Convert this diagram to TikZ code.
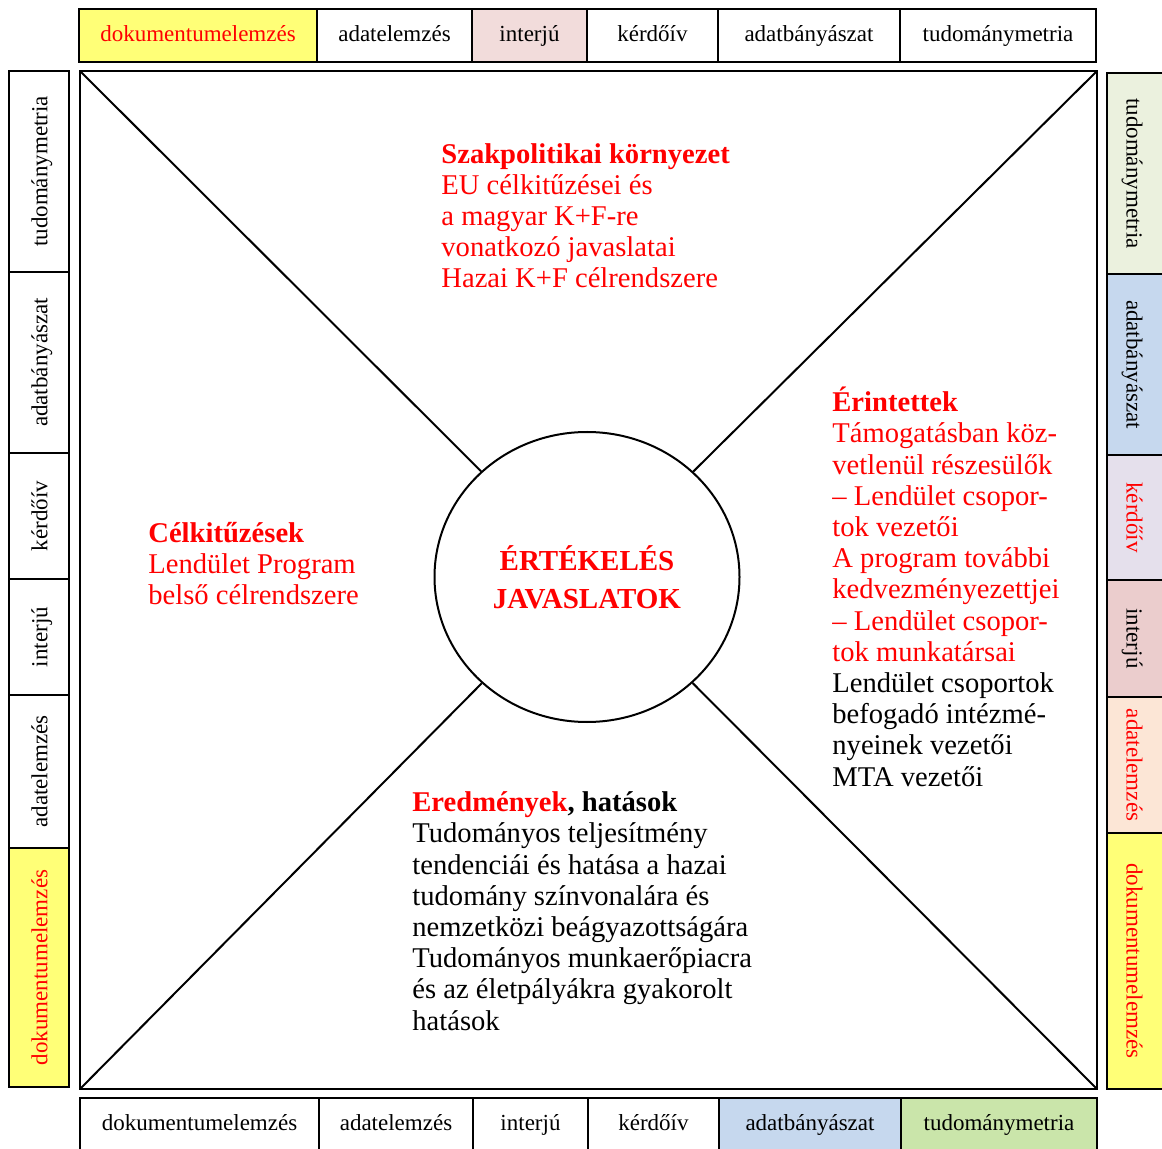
\documentclass[tikz,border=0pt]{standalone}
\usepackage{fontspec}
\setmainfont{Liberation Serif}
\usetikzlibrary{shapes.geometric,positioning}
\definecolor{sarga}{HTML}{FFFF77}
\definecolor{rozsa}{HTML}{F2DCDB}
\definecolor{rozsasot}{HTML}{EBCDCD}
\definecolor{zoldvil}{HTML}{EBF1DE}
\definecolor{kek}{HTML}{C6D8EE}
\definecolor{lila}{HTML}{E5E0EC}
\definecolor{barack}{HTML}{FCE6D6}
\definecolor{zold}{HTML}{CAE5AA}
\tikzset{
  cella/.style={draw,line width=1pt},
  felirat/.style={font=\fontsize{11.5}{13}\selectfont,inner sep=0pt,text height=8pt,text depth=2.6pt},
  szoveg/.style={font=\fontsize{14.3}{15.6}\selectfont,align=left,anchor=base west,inner sep=0pt}
}

\begin{document}
\begin{tikzpicture}[x=0.5pt,y=-0.5pt]
\useasboundingbox (0,0) rectangle (1162,1149);
% felso sor
\foreach \xa/\xb/\lbl/\bg/\fg [count=\i] in {79/317/dokumentumelemzés/sarga/red,317/472/adatelemzés/white/black,472/587/interjú/rozsa/black,587/718/kérdőív/white/black,718/900/adatbányászat/white/black,900/1096/tudománymetria/white/black}{
  \draw[cella,fill=\bg] (\xa,9) rectangle (\xb,62);
  \node[felirat,text=\fg] (fent\i) at ({(\xa+\xb)/2},36) {\lbl};
}
% bal oszlop
\foreach \ya/\yb/\lbl/\bg/\fg [count=\i] in {71/272/tudománymetria/white/black,272/453/adatbányászat/white/black,453/579/kérdőív/white/black,579/695/interjú/white/black,695/848/adatelemzés/white/black,848/1087/dokumentumelemzés/sarga/red}{
  \draw[cella,fill=\bg] (9,\ya) rectangle (69,\yb);
  \node[felirat,text=\fg,rotate=90] (bal\i) at (42,{(\ya+\yb)/2}) {\lbl};
}
% jobb oszlop
\foreach \ya/\yb/\lbl/\bg/\fg [count=\i] in {73/274/tudománymetria/zoldvil/black,274/455/adatbányászat/kek/black,455/580/kérdőív/lila/red,580/697/interjú/rozsasot/black,697/833/adatelemzés/barack/red,833/1089/dokumentumelemzés/sarga/red}{
  \draw[cella,fill=\bg] (1107,\ya) rectangle (1166,\yb);
  \node[felirat,text=\fg,rotate=-90] (jobb\i) at (1132,{(\ya+\yb)/2}) {\lbl};
}
% also sor
\foreach \xa/\xb/\lbl/\bg/\fg [count=\i] in {80/319/dokumentumelemzés/white/black,319/473/adatelemzés/white/black,473/588/interjú/white/black,588/719/kérdőív/white/black,719/901/adatbányászat/kek/black,901/1097/tudománymetria/zold/black}{
  \draw[cella,fill=\bg] (\xa,1098) rectangle (\xb,1153);
  \node[felirat,text=\fg] (also\i) at ({(\xa+\xb)/2},1125) {\lbl};
}
% negyzet es kor
\coordinate (tl) at (80,71);
\coordinate (tr) at (1097,71);
\coordinate (bl) at (80,1089);
\coordinate (br) at (1097,1089);
\draw[cella] (tl) rectangle (br);
\node[ellipse,draw,line width=1pt,minimum width=152.5pt,minimum height=145pt,inner sep=0pt,
  align=center,text=red,font=\fontsize{14.5}{19}\selectfont\bfseries] (ert) at (587,577) {ÉRTÉKELÉS\\JAVASLATOK};
\draw[cella] (tl) -- (ert);
\draw[cella] (tr) -- (ert);
\draw[cella] (bl) -- (ert);
\draw[cella] (br) -- (ert);
% szovegek (base = utolso sor alapvonala)
\node[szoveg,text=red] (szak) at (441,288) {\textbf{Szakpolitikai környezet}\\EU célkitűzései és\\a magyar K+F-re\\vonatkozó javaslatai\\Hazai K+F célrendszere};
\node[szoveg,text=red] (celk) at (148,605) {\textbf{Célkitűzések}\\Lendület Program\\belső célrendszere};
\node[szoveg,text=red] (erin) at (832,786) {\textbf{Érintettek}\\Támogatásban köz-\\vetlenül részesülők\\– Lendület csopor-\\tok vezetői\\A program további\\kedvezményezettjei\\– Lendület csopor-\\tok munkatársai\\\textcolor{black}{Lendület csoportok}\\\textcolor{black}{befogadó intézmé-}\\\textcolor{black}{nyeinek vezetői}\\\textcolor{black}{MTA vezetői}};
\node[szoveg] (ered) at (412,1030) {\textbf{\textcolor{red}{Eredmények}, hatások}\\Tudományos teljesítmény\\tendenciái és hatása a hazai\\tudomány színvonalára és\\nemzetközi beágyazottságára\\Tudományos munkaerőpiacra\\és az életpályákra gyakorolt\\hatások};
\end{tikzpicture}
\end{document}
